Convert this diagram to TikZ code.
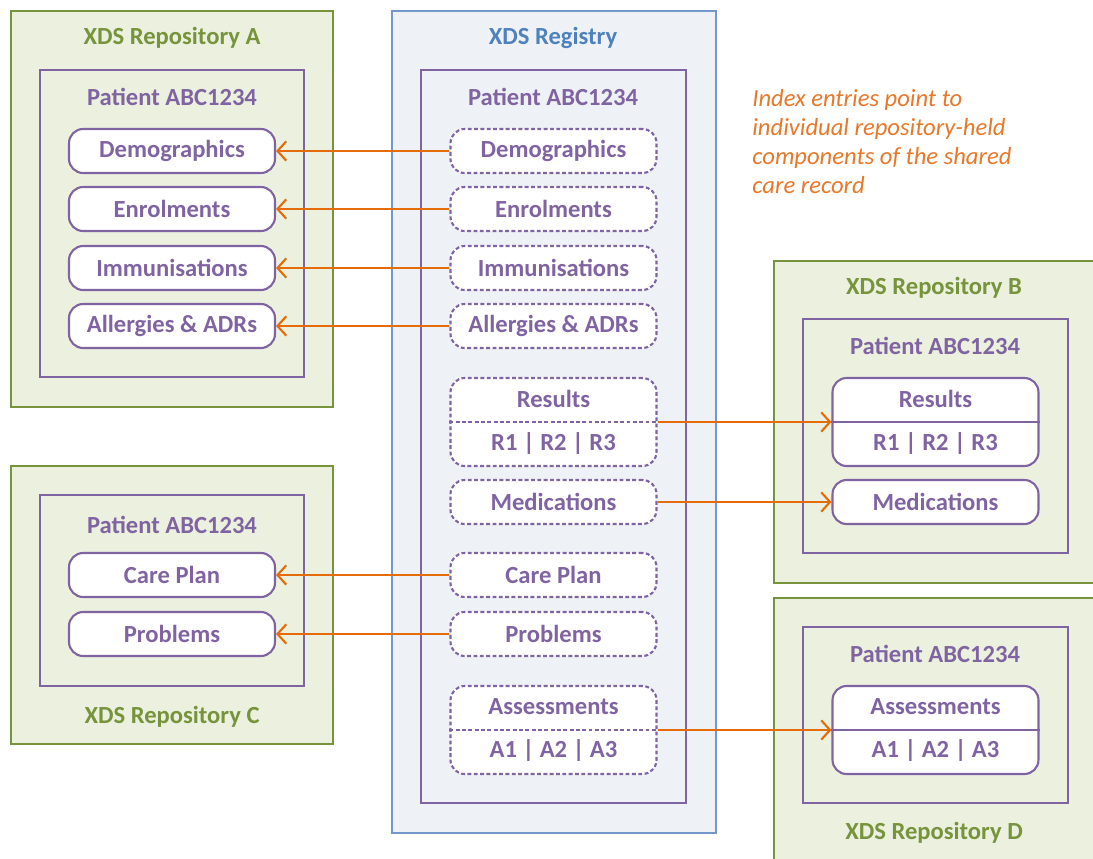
\documentclass[tikz,border=0pt]{standalone}
\usepackage{fontspec}
\setmainfont{Carlito}
\usetikzlibrary{arrows.meta}
\definecolor{repogreen}{HTML}{77933C}
\definecolor{repofill}{HTML}{EBF1DE}
\definecolor{regblue}{HTML}{4F81BD}
\definecolor{regline}{HTML}{7398C9}
\definecolor{regfill}{HTML}{EEF2F7}
\definecolor{ptpurple}{HTML}{8064A2}
\definecolor{ptorange}{HTML}{E46C0A}
\definecolor{notecol}{HTML}{E8782A}
\tikzset{
	repo/.style={draw=repogreen,fill=repofill,line width=1.2pt},
	registry/.style={draw=regline,fill=regfill,line width=1.2pt},
	patient/.style={draw=ptpurple,line width=1.2pt},
	title/.style={font=\bfseries\fontsize{14}{17}\selectfont,inner sep=0pt},
	entry/.style={draw=ptpurple,fill=white,line width=1.2pt,rounded corners=8pt,
		minimum width=4.12cm,minimum height=0.88cm,inner sep=0pt,text=ptpurple,
		font=\bfseries\fontsize{14}{17}\selectfont},
	splitentry/.style={entry,minimum height=1.76cm,align=center,
		font=\bfseries\fontsize{14}{24.4}\selectfont},
	index/.style={dash pattern=on 2.2pt off 1.4pt},
	link/.style={draw=ptorange,line width=1.2pt,-{Straight Barb[length=5pt,width=11pt]}}
}
\begin{document}
\begin{tikzpicture}[x=0.02cm,y=-0.02cm]
\clip (0,0) rectangle (1093,859);
\fill[white] (0,0) rectangle (1093,859);
\draw[repo] (11,11) rectangle (333,407);
\draw[patient] (40,70) rectangle (304,377);
\draw[registry] (392,11) rectangle (716,833);
\draw[patient] (421,70) rectangle (686,803);
\draw[repo] (774,261) rectangle (1100,583);
\draw[patient] (803,319) rectangle (1068,553);
\draw[repo] (11,466) rectangle (333,744);
\draw[patient] (40,495) rectangle (304,686);
\draw[repo] (774,598) rectangle (1100,870);
\draw[patient] (803,627) rectangle (1068,803);
\path
	(172,38) node [title,text=repogreen] (repoA) {XDS Repository A}
	(553,38) node [title,text=regblue] (reg) {XDS Registry}
	(934,288) node [title,text=repogreen] (repoB) {XDS Repository B}
	(172,717) node [title,text=repogreen] (repoC) {XDS Repository C}
	(934,833) node [title,text=repogreen] (repoD) {XDS Repository D}
	(172,97) node [title,text=ptpurple] (patA) {Patient ABC1234}
	(553,97) node [title,text=ptpurple] (patR) {Patient ABC1234}
	(935,346) node [title,text=ptpurple] (patB) {Patient ABC1234}
	(172,525) node [title,text=ptpurple] (patC) {Patient ABC1234}
	(935,654) node [title,text=ptpurple] (patD) {Patient ABC1234};
\path
	(172,151) node [entry] (ademo) {Demographics}
	(172,209) node [entry] (aenrol) {Enrolments}
	(172,268) node [entry] (aimm) {Immunisations}
	(172,326) node [entry] (aall) {Allergies \& ADRs}
	(172,575) node [entry] (ccare) {Care Plan}
	(172,634) node [entry] (cprob) {Problems}
	(935.5,422) node [splitentry] (bres) {Results\\R1 | R2 | R3}
	(935.5,502) node [entry] (bmed) {Medications}
	(935.5,730) node [splitentry] (dass) {Assessments\\A1 | A2 | A3};
\path
	(553.5,151) node [entry,index] (rdemo) {Demographics}
	(553.5,209) node [entry,index] (renrol) {Enrolments}
	(553.5,268) node [entry,index] (rimm) {Immunisations}
	(553.5,326) node [entry,index] (rall) {Allergies \& ADRs}
	(553.5,422) node [splitentry,index] (rres) {Results\\R1 | R2 | R3}
	(553.5,502) node [entry,index] (rmed) {Medications}
	(553.5,575) node [entry,index] (rcare) {Care Plan}
	(553.5,634) node [entry,index] (rprob) {Problems}
	(553.5,730) node [splitentry,index] (rass) {Assessments\\A1 | A2 | A3};
\draw[ptpurple,line width=1.2pt] (bres.west) -- (bres.east);
\draw[ptpurple,line width=1.2pt] (dass.west) -- (dass.east);
\draw[ptpurple,line width=1.2pt,index] (rres.west) -- (rres.east);
\draw[ptpurple,line width=1.2pt,index] (rass.west) -- (rass.east);
\draw[link] (rdemo.west) -- (ademo.east);
\draw[link] (renrol.west) -- (aenrol.east);
\draw[link] (rimm.west) -- (aimm.east);
\draw[link] (rall.west) -- (aall.east);
\draw[link] (rcare.west) -- (ccare.east);
\draw[link] (rprob.west) -- (cprob.east);
\draw[link] (rres.east) -- (bres.west);
\draw[link] (rmed.east) -- (bmed.west);
\draw[link] (rass.east) -- (dass.west);
\node [anchor=north west,align=left,inner sep=0pt,text=notecol,
	font=\itshape\fontsize{14}{16.6}\selectfont] (note) at (752,89)
	{Index entries point to\\individual repository-held\\components of the shared\\care record};
\end{tikzpicture}
\end{document}
